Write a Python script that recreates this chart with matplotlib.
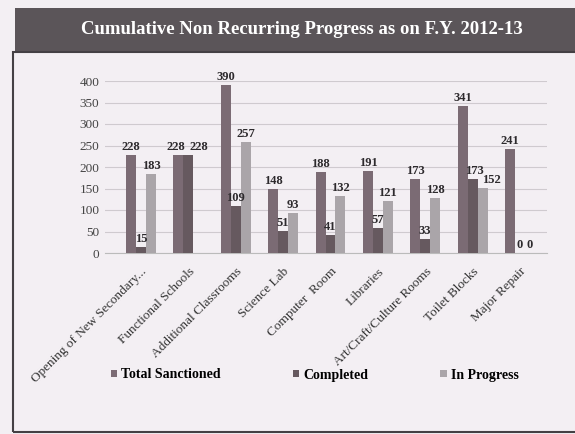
import matplotlib
matplotlib.use("Agg")
import matplotlib.pyplot as plt
from matplotlib.patches import Rectangle
from matplotlib.transforms import offset_copy
import numpy as np

categories = ["Opening of New Secondary...", "Functional Schools", "Additional Classrooms",
              "Science Lab", "Computer  Room", "Libraries", "Art/Craft/Culture Rooms",
              "Toilet Blocks", "Major Repair"]
total_sanctioned = [228, 228, 390, 148, 188, 191, 173, 341, 241]
completed = [15, 228, 109, 51, 41, 57, 33, 173, 0]
in_progress = [183, None, 257, 93, 132, 121, 128, 152, 0]
series_names = ["Total Sanctioned", "Completed", "In Progress"]
yticks = [0, 50, 100, 150, 200, 250, 300, 350, 400]

plt.rcParams['font.family'] = ['Liberation Serif', 'DejaVu Serif']
bg = "#f3eff3"
fig = plt.figure(figsize=(5.75, 4.34), dpi=100, facecolor=bg)

# title banner
fig.patches.append(Rectangle((15/575, 1-52/434), 1-15/575, 44/434, transform=fig.transFigure,
                             facecolor="#5b5559", edgecolor="none", zorder=0))
fig.text(0.525, 1-30/434, "Cumulative Non Recurring Progress as on F.Y. 2012-13", ha="center",
         va="center", color="white", fontsize=13.5, fontweight="bold")
# outer box
fig.patches.append(Rectangle((13/575, 1-432/434), 1.2, (432-52)/434, transform=fig.transFigure,
                             facecolor="none", edgecolor="#444044", lw=1.5, zorder=0))

ax = fig.add_axes([105/575, 1-253/434, (547-105)/575, (253-81)/434])
ax.set_facecolor(bg)
colors = ["#7b6b74", "#66595f", "#aaa5a9"]
x = np.arange(len(categories))
w = 0.21
# small horizontal nudges (pixels) so adjacent labels don't collide, as in the original
nudge = {(1, 0): -3, (1, 1): 10, (7, 1): 2, (7, 2): 9}
for i, (vals, c, name) in enumerate(zip([total_sanctioned, completed, in_progress], colors, series_names)):
    pos = x + (i - 1) * w
    v = np.array([np.nan if a is None else a for a in vals], dtype=float)
    ax.bar(pos, np.nan_to_num(v), w, color=c, label=name, zorder=3)
    for j, (p, val) in enumerate(zip(pos, v)):
        if np.isnan(val):
            continue
        tr = offset_copy(ax.transData, fig=fig, x=nudge.get((j, i), 0), y=2, units="dots")
        ax.text(p, val, f"{int(val)}", ha="center", va="bottom", fontsize=9,
                fontweight="bold", color="#2d2a2d", zorder=4, clip_on=False, transform=tr)

ax.set_ylim(0, 400)
ax.set_xlim(-0.76, 8.57)
ax.set_yticks(yticks)
ax.set_yticklabels([str(t) for t in yticks], fontsize=9.5, color="#444")
ax.yaxis.grid(True, color="#cfcacf", lw=0.8, zorder=0)
ax.tick_params(axis="y", length=0, pad=4)
ax.set_xticks(x)
ax.set_xticklabels(categories, rotation=45, ha="right", rotation_mode="anchor", fontsize=9.5, color="#333")
ax.tick_params(axis="x", length=0, pad=9)
for s in ["top", "right", "left"]:
    ax.spines[s].set_visible(False)
ax.spines["bottom"].set_color("#bbb")

leg = fig.legend(loc="center left", bbox_to_anchor=(105/575, 1-375/434), ncol=3, frameon=False,
                 prop={"weight": "bold", "size": 10}, handlelength=0.45, handleheight=0.45,
                 columnspacing=5.2, handletextpad=0.3, borderaxespad=0)
fig.savefig("out.png", dpi=100, facecolor=bg)
